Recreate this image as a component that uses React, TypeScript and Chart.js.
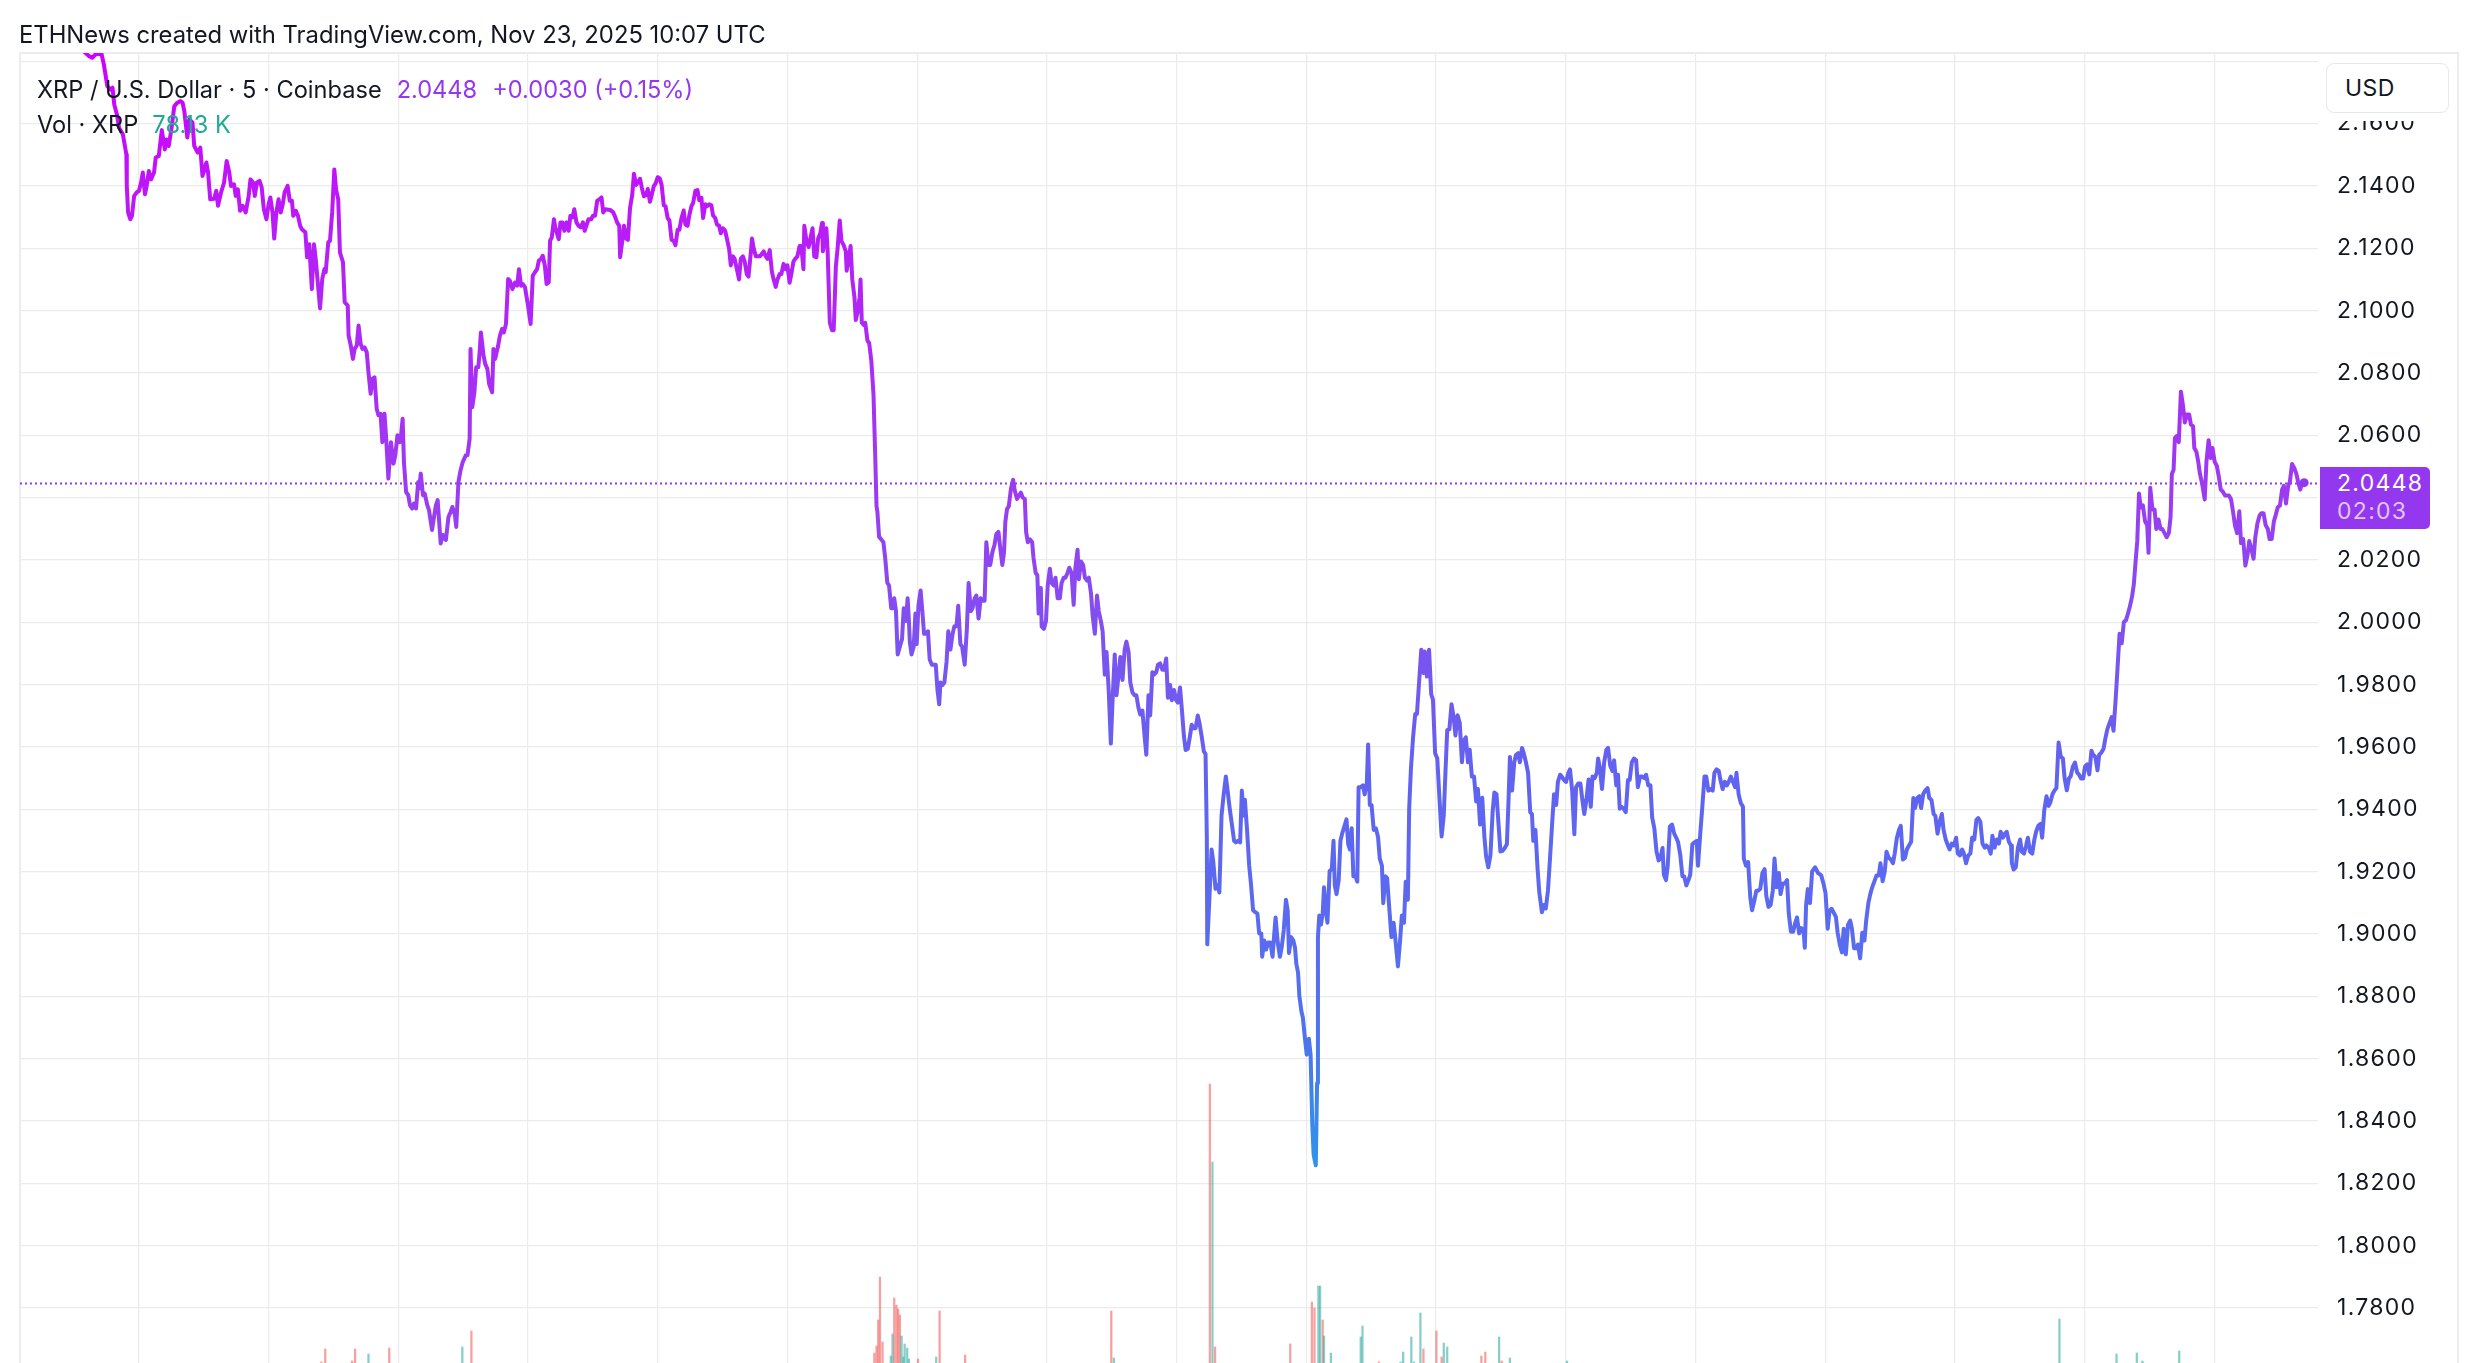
import React, { useEffect, useRef } from "react";
import { Chart, registerables } from "chart.js";

Chart.register(...registerables);

// ---------- DATA (hours since Nov 21 08:00 UTC, 5-min XRP/USD closes) ----------
const timeHours = [
  -2.75, -2.1, -1.5,
  -1.15, -1.08, -1.01, -0.87, -0.81, -0.73, -0.66, -0.61, -0.57, -0.50,
  -0.46, -0.37, -0.29, -0.28, -0.25, -0.20, -0.16, -0.11, -0.05, 0.00,
  0.05, 0.09, 0.14, 0.18, 0.23, 0.28, 0.35, 0.39, 0.46, 0.53,
  0.60, 0.64, 0.69, 0.75, 0.82, 0.89, 0.96, 1.01, 1.05, 1.12,
  1.17, 1.24, 1.28, 1.36, 1.42, 1.47, 1.51, 1.56, 1.60, 1.65,
  1.74, 1.79, 1.83, 1.90, 1.97, 2.03, 2.09, 2.13, 2.20, 2.24,
  2.29, 2.34, 2.40, 2.47, 2.54, 2.58, 2.64, 2.68, 2.73, 2.79,
  2.84, 2.89, 2.95, 3.00, 3.04, 3.09, 3.13, 3.18, 3.23, 3.28,
  3.32, 3.37, 3.44, 3.49, 3.54, 3.57, 3.63, 3.68, 3.73, 3.77,
  3.85, 3.89, 3.94, 4.00, 4.05, 4.09, 4.19, 4.24, 4.29, 4.32,
  4.38, 4.42, 4.47, 4.52, 4.56, 4.61, 4.65, 4.72, 4.76, 4.83,
  4.85, 4.90, 4.95, 4.99, 5.04, 5.08, 5.13, 5.17, 5.22, 5.27,
  5.31, 5.36, 5.40, 5.45, 5.50, 5.54, 5.59, 5.63, 5.68, 5.72,
  5.77, 5.83, 5.89, 5.93, 5.98, 6.03, 6.06, 6.10, 6.13, 6.18,
  6.23, 6.27, 6.32, 6.36, 6.41, 6.46, 6.48, 6.52, 6.57, 6.61,
  6.67, 6.71, 6.78, 6.82, 6.87, 6.91, 6.98, 7.03, 7.10, 7.16,
  7.21, 7.25, 7.31, 7.34, 7.39, 7.44, 7.49, 7.56, 7.60, 7.65,
  7.67, 7.71, 7.76, 7.80, 7.85, 7.88, 7.91, 7.97, 8.01, 8.06,
  8.10, 8.17, 8.20, 8.24, 8.31, 8.35, 8.40, 8.44, 8.49, 8.54,
  8.58, 8.64, 8.70, 8.75, 8.79, 8.84, 8.88, 8.93, 9.00, 9.06,
  9.11, 9.16, 9.21, 9.25, 9.30, 9.34, 9.39, 9.43, 9.48, 9.51,
  9.55, 9.60, 9.63, 9.71, 9.75, 9.80, 9.84, 9.89, 9.94, 9.98,
  10.03, 10.07, 10.12, 10.17, 10.22, 10.27, 10.31, 10.36, 10.40, 10.46,
  10.50, 10.55, 10.60, 10.65, 10.70, 10.74, 10.79, 10.90, 10.97, 11.02,
  11.06, 11.11,
  11.13, 11.18, 11.22, 11.27, 11.31, 11.36, 11.41, 11.45, 11.50, 11.54,
  11.59, 11.63, 11.68, 11.73, 11.77, 11.82, 11.86, 11.91, 11.95, 12.00,
  12.05, 12.09, 12.14, 12.18, 12.23, 12.27, 12.32, 12.37, 12.41, 12.46,
  12.50, 12.55, 12.60, 12.64, 12.69, 12.73, 12.78, 12.82, 12.87, 12.92,
  12.96, 13.01, 13.05, 13.10, 13.14, 13.19, 13.24, 13.28, 13.33, 13.37,
  13.42, 13.46, 13.51, 13.56, 13.60, 13.65, 13.69, 13.74, 13.78, 13.83,
  13.88, 13.92, 13.97, 14.01, 14.06, 14.10, 14.15, 14.18, 14.22, 14.27,
  14.31, 14.36, 14.41, 14.45, 14.50, 14.54, 14.59, 14.64, 14.68, 14.73,
  14.77, 14.82, 14.86, 14.91, 14.96, 15.00, 15.05, 15.09, 15.14, 15.18,
  15.23, 15.28, 15.32, 15.37, 15.39, 15.44, 15.49, 15.53, 15.58, 15.62,
  15.67, 15.71, 15.76, 15.80, 15.82, 15.86, 15.90, 15.93, 15.98, 16.03,
  16.07, 16.12, 16.16, 16.21, 16.25, 16.30, 16.35, 16.37, 16.42, 16.46,
  16.50, 16.55, 16.58, 16.62, 16.67, 16.69, 16.72, 16.77, 16.80, 16.85,
  16.89, 16.94, 16.99, 17.03, 17.06, 17.08, 17.12, 17.17, 17.22, 17.26,
  17.31, 17.35, 17.40, 17.44, 17.47, 17.51, 17.55, 17.60, 17.65, 17.69,
  17.74, 17.78, 17.81, 17.83, 17.87, 17.92, 17.96, 17.99, 18.03, 18.08,
  18.12, 18.16, 18.20, 18.25, 18.29, 18.34, 18.39, 18.43, 18.47, 18.51,
  18.54, 18.59, 18.63, 18.68, 18.72, 18.77, 18.82, 18.86, 18.91, 18.95,
  19.00, 19.04, 19.10, 19.15, 19.19, 19.24, 19.28, 19.33, 19.37, 19.42,
  19.47, 19.51, 19.56, 19.60, 19.65, 19.69, 19.74, 19.79, 19.83, 19.88,
  19.92, 19.97, 20.01, 20.04, 20.08, 20.12, 20.17, 20.22, 20.26, 20.31,
  20.35, 20.40, 20.44, 20.49, 20.52, 20.56, 20.61, 20.66, 20.69, 20.74,
  20.78, 20.81, 20.86, 20.88, 20.93, 20.98, 21.02, 21.07, 21.11, 21.16,
  21.20, 21.25, 21.30, 21.34, 21.39, 21.43, 21.48, 21.52, 21.57, 21.62,
  21.66, 21.71, 21.74, 21.79, 21.84, 21.88, 21.93, 21.97, 22.02, 22.06,
  22.11, 22.16, 22.20, 22.25, 22.29, 22.34, 22.38, 22.43, 22.48, 22.52,
  22.57, 22.61, 22.66, 22.70, 22.75, 22.80, 22.84, 22.89, 22.93, 22.98,
  23.03, 23.07, 23.12, 23.16, 23.21, 23.25, 23.30, 23.35, 23.39, 23.44,
  23.48, 23.53, 23.57, 23.62, 23.67, 23.71, 23.76, 23.80, 23.85, 23.89,
  23.94, 23.99, 24.03, 24.08, 24.12, 24.17, 24.21, 24.26, 24.31, 24.35,
  24.40, 24.44, 24.49, 24.53, 24.58, 24.63, 24.67, 24.70,
  24.71, 24.76, 24.81, 24.85, 24.90, 24.95, 24.99, 25.04, 25.09, 25.14,
  25.18, 25.23, 25.28, 25.33, 25.37, 25.42, 25.47, 25.51, 25.55, 25.58,
  25.63, 25.68, 25.72, 25.77, 25.82, 25.87, 25.91, 25.96, 25.98, 26.03,
  26.07, 26.12, 26.17, 26.22, 26.26, 26.29, 26.34, 26.39, 26.43, 26.48,
  26.53, 26.57, 26.60, 26.65, 26.70, 26.74, 26.77, 26.81, 26.84, 26.89,
  26.92, 26.97, 27.01, 27.06, 27.10, 27.14, 27.17, 27.22, 27.25, 27.27,
  27.30, 27.34, 27.38, 27.41, 27.45, 27.49, 27.54, 27.59, 27.63, 27.66,
  27.70, 27.75, 27.79, 27.83, 27.88, 27.93, 27.97, 28.01, 28.05, 28.09,
  28.14, 28.18, 28.21, 28.26, 28.31, 28.35, 28.40, 28.43, 28.47, 28.51,
  28.56, 28.61, 28.66, 28.70, 28.75, 28.78, 28.83, 28.87, 28.92, 28.97,
  29.02, 29.06, 29.12, 29.17, 29.21, 29.26, 29.30, 29.35, 29.38, 29.42,
  29.47, 29.52, 29.56, 29.61, 29.66, 29.71, 29.74, 29.79, 29.84, 29.89,
  29.93, 29.98, 30.03, 30.08, 30.13, 30.18, 30.22, 30.26, 30.31, 30.36,
  30.41, 30.45, 30.50, 30.55, 30.60, 30.64, 30.69, 30.74, 30.78, 30.83,
  30.88, 30.93, 30.97, 31.02, 31.07, 31.12, 31.16, 31.21, 31.26, 31.31,
  31.35, 31.40, 31.45, 31.49, 31.54, 31.59, 31.64, 31.68, 31.71, 31.76,
  31.81, 31.85, 31.90, 31.94, 31.99, 32.03, 32.08, 32.13, 32.18, 32.22,
  32.25, 32.30, 32.35, 32.39, 32.45, 32.50, 32.54, 32.59, 32.64, 32.69,
  32.73, 32.78, 32.82, 32.87, 32.91, 32.96, 33.01, 33.06, 33.10, 33.15,
  33.20, 33.24, 33.29, 33.34, 33.39, 33.43, 33.48, 33.53, 33.58, 33.62,
  33.67, 33.72, 33.75, 33.79, 33.84, 33.89, 33.94, 33.98, 34.03, 34.08,
  34.12, 34.17, 34.21, 34.25, 34.29, 34.34, 34.39, 34.44, 34.48, 34.53,
  34.58, 34.63, 34.67, 34.72, 34.77, 34.82, 34.86, 34.91, 34.96, 35.00,
  35.05, 35.10, 35.15, 35.19, 35.24, 35.27, 35.32, 35.36, 35.41, 35.46,
  35.51, 35.55, 35.60, 35.65, 35.70, 35.74, 35.79, 35.84, 35.88, 35.93,
  35.98, 36.03, 36.06, 36.11, 36.16, 36.21, 36.25, 36.30, 36.35, 36.40,
  36.44, 36.49, 36.54, 36.58, 36.63, 36.68, 36.73, 36.77, 36.82, 36.87,
  36.92, 36.95, 37.00, 37.05, 37.10, 37.12, 37.17, 37.22, 37.27, 37.31,
  37.36, 37.41, 37.45, 37.50, 37.55, 37.60, 37.64, 37.69, 37.74, 37.79,
  37.83, 37.88, 37.93, 37.97, 38.02, 38.07, 38.12, 38.16, 38.21, 38.26,
  38.31, 38.35, 38.40, 38.45, 38.50, 38.53,
  38.56, 38.60, 38.65, 38.70, 38.77, 38.84, 38.91, 38.96, 39.01, 39.06,
  39.10, 39.15, 39.20, 39.25, 39.29, 39.34, 39.39, 39.43, 39.48, 39.53,
  39.58, 39.62, 39.67, 39.72, 39.76, 39.81, 39.86, 39.91, 39.95, 40.00,
  40.05, 40.09, 40.14, 40.19, 40.24, 40.28, 40.33, 40.38, 40.42, 40.47,
  40.52, 40.57, 40.61, 40.66, 40.71, 40.75, 40.80, 40.85, 40.89, 40.94,
  40.99, 41.04, 41.08, 41.13, 41.18, 41.22, 41.27, 41.32, 41.37, 41.41,
  41.46, 41.51, 41.55, 41.60, 41.65, 41.70, 41.74, 41.79, 41.84, 41.88,
  41.93, 41.98, 42.03, 42.07, 42.12, 42.17, 42.21, 42.26, 42.31, 42.36,
  42.40, 42.45, 42.50, 42.54, 42.59, 42.64, 42.69, 42.73, 42.78, 42.83,
  42.87, 42.92, 42.97, 43.02, 43.06, 43.11, 43.16, 43.20, 43.25, 43.30,
  43.32, 43.36, 43.41, 43.46, 43.51, 43.55, 43.60, 43.65, 43.69, 43.74,
  43.79, 43.84, 43.88, 43.93, 43.98, 44.02, 44.07, 44.12, 44.17, 44.21,
  44.26, 44.31, 44.35, 44.40, 44.45, 44.50, 44.54, 44.59, 44.64, 44.68,
  44.73, 44.78, 44.83, 44.87, 44.92, 44.97, 45.01, 45.06, 45.11, 45.16,
  45.20, 45.25, 45.30, 45.34, 45.39, 45.44, 45.48, 45.53, 45.58, 45.63,
  45.67, 45.72, 45.77, 45.81, 45.86, 45.91, 45.96, 46.00, 46.05, 46.10,
  46.14, 46.19, 46.22, 46.26, 46.30, 46.35, 46.40, 46.45, 46.48, 46.52,
  46.57, 46.62, 46.66, 46.71, 46.76, 46.80, 46.85, 46.90, 46.95, 46.99,
  47.02, 47.06, 47.09, 47.13, 47.18, 47.23, 47.28, 47.32, 47.37, 47.42,
  47.46, 47.51, 47.54, 47.59, 47.63, 47.67, 47.72, 47.78, 47.82, 47.87,
  47.92, 47.96, 48.01, 48.06, 48.11, 48.15, 48.20, 48.25, 48.29, 48.34,
  48.39, 48.44, 48.48, 48.53, 48.58, 48.62, 48.67, 48.72, 48.77, 48.81,
  48.86, 48.91, 48.95, 49.00, 49.05, 49.09, 49.14, 49.19, 49.24, 49.28,
  49.33, 49.38, 49.42, 49.47, 49.52, 49.57, 49.61, 49.66, 49.71, 49.75,
  49.80, 49.85, 49.90, 49.94, 49.99, 50.04, 50.08,
];

const priceUSD = [
  2.1905, 2.1885, 2.1860,
  2.1816, 2.1811, 2.1821, 2.1827, 2.1789, 2.1720, 2.1709, 2.1715, 2.1661, 2.1624,
  2.1587, 2.1565, 2.1501, 2.1400, 2.1315, 2.1293, 2.1304, 2.1368, 2.1379, 2.1384,
  2.1411, 2.1443, 2.1373, 2.1400, 2.1448, 2.1421, 2.1443, 2.1491, 2.1496, 2.1579,
  2.1517, 2.1549, 2.1528, 2.1581, 2.1656, 2.1667, 2.1672, 2.1667, 2.1640, 2.1555,
  2.1613, 2.1603, 2.1528, 2.1507, 2.1523, 2.1432, 2.1448, 2.1475, 2.1443, 2.1357,
  2.1359, 2.1384, 2.1336, 2.1379, 2.1411, 2.1480, 2.1443, 2.1400, 2.1405, 2.1368,
  2.1389, 2.1320, 2.1336, 2.1315, 2.1368, 2.1421, 2.1411, 2.1368, 2.1411, 2.1416,
  2.1395, 2.1325, 2.1293, 2.1341, 2.1363, 2.1315, 2.1231, 2.1315, 2.1357, 2.1315,
  2.1336, 2.1379, 2.1400, 2.1352, 2.1352, 2.1304, 2.1320, 2.1304, 2.1272, 2.1261,
  2.1251, 2.1171, 2.1213, 2.1069, 2.1213, 2.1165, 2.1007, 2.1101, 2.1133, 2.1123,
  2.1219, 2.1224, 2.1315, 2.1453, 2.1389, 2.1357, 2.1187, 2.1155, 2.1027, 2.1016,
  2.0920, 2.0888, 2.0845, 2.0877, 2.0888, 2.0952, 2.0893, 2.0877, 2.0882, 2.0866,
  2.0802, 2.0733, 2.0781, 2.0786, 2.0685, 2.0664, 2.0669, 2.0578, 2.0669, 2.0589,
  2.0461, 2.0578, 2.0509, 2.0536, 2.0600, 2.0578, 2.0594, 2.0653, 2.0514, 2.0418,
  2.0408, 2.0376, 2.0365, 2.0381, 2.0365, 2.0450, 2.0429, 2.0477, 2.0408, 2.0413,
  2.0376, 2.0360, 2.0296, 2.0333, 2.0376, 2.0392, 2.0253, 2.0280, 2.0264, 2.0338,
  2.0354, 2.0370, 2.0344, 2.0306, 2.0450, 2.0488, 2.0514, 2.0536, 2.0536, 2.0589,
  2.0877, 2.0690, 2.0738, 2.0818, 2.0818, 2.0866, 2.0930, 2.0856, 2.0829, 2.0813,
  2.0765, 2.0738, 2.0877, 2.0845, 2.0888, 2.0920, 2.0941, 2.0930, 2.0957, 2.1101,
  2.1096, 2.1069, 2.1090, 2.1080, 2.1133, 2.1080, 2.1085, 2.1075, 2.1016, 2.0957,
  2.1112, 2.1123, 2.1133, 2.1160, 2.1165, 2.1176, 2.1144, 2.1085, 2.1091, 2.1224,
  2.1235, 2.1293, 2.1267, 2.1229, 2.1283, 2.1283, 2.1256, 2.1283, 2.1256, 2.1304,
  2.1299, 2.1325, 2.1283, 2.1272, 2.1267, 2.1283, 2.1256, 2.1277, 2.1293, 2.1293,
  2.1304, 2.1304, 2.1352, 2.1357, 2.1363, 2.1315, 2.1325, 2.1323, 2.1315, 2.1299,
  2.1283, 2.1272,
  2.1171, 2.1223, 2.1272, 2.1231, 2.1227, 2.1330, 2.1371, 2.1439, 2.1403, 2.1411,
  2.1423, 2.1395, 2.1367, 2.1371, 2.1390, 2.1349, 2.1371, 2.1400, 2.1407, 2.1428,
  2.1423, 2.1403, 2.1338, 2.1335, 2.1297, 2.1289, 2.1227, 2.1223, 2.1210, 2.1259,
  2.1259, 2.1297, 2.1321, 2.1276, 2.1272, 2.1305, 2.1335, 2.1346, 2.1384, 2.1387,
  2.1354, 2.1362, 2.1297, 2.1341, 2.1335, 2.1341, 2.1338, 2.1305, 2.1297, 2.1276,
  2.1272, 2.1248, 2.1264, 2.1256, 2.1231, 2.1199, 2.1145, 2.1174, 2.1166, 2.1133,
  2.1100, 2.1166, 2.1174, 2.1158, 2.1117, 2.1109, 2.1182, 2.1231, 2.1199, 2.1174,
  2.1174, 2.1174, 2.1182, 2.1190, 2.1174, 2.1166, 2.1194, 2.1125, 2.1100, 2.1076,
  2.1100, 2.1117, 2.1117, 2.1150, 2.1133, 2.1145, 2.1089, 2.1117, 2.1158, 2.1166,
  2.1174, 2.1207, 2.1207, 2.1133, 2.1272, 2.1223, 2.1204, 2.1231, 2.1264, 2.1174,
  2.1171, 2.1231, 2.1248, 2.1281, 2.1190, 2.1231, 2.1264, 2.1190, 2.0961, 2.0937,
  2.0937, 2.1142, 2.1199, 2.1289, 2.1223, 2.1210, 2.1190, 2.1128, 2.1166, 2.1207,
  2.1100, 2.1043, 2.0970, 2.0994, 2.1043, 2.1100, 2.0961, 2.0953, 2.0961, 2.0904,
  2.0896, 2.0839, 2.0732, 2.0536, 2.0372, 2.0356, 2.0274, 2.0266, 2.0257, 2.0208,
  2.0127, 2.0118, 2.0045, 2.0045, 2.0077, 2.0036, 1.9897, 1.9922, 1.9946, 2.0045,
  2.0004, 2.0077, 2.0004, 1.9938, 1.9897, 1.9922, 2.0028, 1.9930, 2.0053, 2.0102,
  2.0036, 1.9963, 1.9963, 1.9971, 1.9881, 1.9864, 1.9864, 1.9864, 1.9783, 1.9737,
  1.9807, 1.9799, 1.9807, 1.9873, 1.9971, 1.9913, 1.9963, 1.9987, 1.9987, 2.0053,
  1.9930, 1.9922, 1.9864, 1.9979, 2.0126, 2.0036, 2.0045, 2.0077, 2.0086, 2.0012,
  2.0077, 2.0069, 2.0069, 2.0257, 2.0184, 2.0184, 2.0225, 2.0249, 2.0282, 2.0290,
  2.0241, 2.0184, 2.0225, 2.0323, 2.0364, 2.0372, 2.0429, 2.0457, 2.0421, 2.0396,
  2.0405, 2.0416, 2.0400, 2.0396, 2.0290, 2.0257, 2.0266, 2.0257, 2.0208, 2.0159,
  2.0151, 2.0028, 2.0110, 1.9987, 1.9979, 2.0004, 2.0118, 2.0172, 2.0126, 2.0118,
  2.0143, 2.0077, 2.0077, 2.0126, 2.0143, 2.0143, 2.0159, 2.0175, 2.0159, 2.0056,
  2.0175, 2.0233, 2.0138, 2.0195, 2.0184, 2.0143, 2.0134, 2.0143, 2.0094, 2.0020,
  1.9963, 2.0086, 2.0036, 2.0004, 1.9971, 1.9832, 1.9905, 1.9783, 1.9611, 1.9750,
  1.9897, 1.9766, 1.9832, 1.9889, 1.9815, 1.9913, 1.9938, 1.9905, 1.9807, 1.9775,
  1.9766, 1.9766, 1.9725, 1.9704, 1.9717, 1.9652, 1.9575, 1.9766, 1.9701, 1.9840,
  1.9832, 1.9840, 1.9864, 1.9868, 1.9848, 1.9848, 1.9884, 1.9758, 1.9799, 1.9750,
  1.9783, 1.9750, 1.9742, 1.9791, 1.9725, 1.9635, 1.9590, 1.9594, 1.9635, 1.9671,
  1.9660, 1.9660, 1.9701, 1.9676, 1.9635, 1.9586, 1.9578, 1.9308,
  1.8967, 1.9116, 1.9271, 1.9231, 1.9145, 1.9156, 1.9133, 1.9380, 1.9448, 1.9505,
  1.9460, 1.9402, 1.9351, 1.9299, 1.9294, 1.9299, 1.9294, 1.9460, 1.9380, 1.9431,
  1.9334, 1.9219, 1.9162, 1.9076, 1.9070, 1.9065, 1.9002, 1.9002, 1.8927, 1.8979,
  1.8950, 1.8973, 1.8973, 1.8927, 1.9002, 1.9053, 1.8973, 1.8927, 1.8956, 1.9013,
  1.9110, 1.9076, 1.8939, 1.8990, 1.8979, 1.8956, 1.8904, 1.8876, 1.8801, 1.8750,
  1.8733, 1.8664, 1.8613, 1.8664, 1.8613, 1.8384, 1.8292, 1.8258, 1.8521, 1.8990,
  1.9059, 1.9030, 1.9065, 1.9150, 1.9082, 1.9036, 1.9202, 1.9208, 1.9299, 1.9156,
  1.9128, 1.9173, 1.9299, 1.9322, 1.9345, 1.9368, 1.9288, 1.9271, 1.9339, 1.9185,
  1.9185, 1.9168, 1.9471, 1.9471, 1.9477, 1.9448, 1.9483, 1.9608, 1.9414, 1.9414,
  1.9334, 1.9339, 1.9311, 1.9242, 1.9219, 1.9099, 1.9185, 1.9179, 1.9082, 1.8990,
  1.9036, 1.8985, 1.8896, 1.8979, 1.9059, 1.9036, 1.9168, 1.9110, 1.9402, 1.9528,
  1.9631, 1.9706, 1.9706, 1.9809, 1.9912, 1.9837, 1.9906, 1.9826, 1.9912, 1.9769,
  1.9752, 1.9580, 1.9563, 1.9437, 1.9313, 1.9380, 1.9523, 1.9654, 1.9657, 1.9737,
  1.9694, 1.9637, 1.9702, 1.9677, 1.9551, 1.9620, 1.9631, 1.9551, 1.9591, 1.9505,
  1.9505, 1.9425, 1.9465, 1.9351, 1.9437, 1.9311, 1.9248, 1.9214, 1.9254, 1.9391,
  1.9454, 1.9448, 1.9345, 1.9265, 1.9267, 1.9276, 1.9288, 1.9437, 1.9568, 1.9460,
  1.9551, 1.9574, 1.9580, 1.9551, 1.9597, 1.9580, 1.9551, 1.9517, 1.9391, 1.9385,
  1.9299, 1.9334, 1.9208, 1.9133, 1.9070, 1.9093, 1.9082, 1.9139, 1.9248, 1.9362,
  1.9448, 1.9414, 1.9488, 1.9511, 1.9505, 1.9494, 1.9488, 1.9517, 1.9528, 1.9460,
  1.9320, 1.9471, 1.9483, 1.9483, 1.9425, 1.9385, 1.9431, 1.9496, 1.9408, 1.9505,
  1.9500, 1.9517, 1.9563, 1.9534, 1.9465, 1.9551, 1.9591, 1.9597, 1.9540, 1.9523,
  1.9557, 1.9477, 1.9511, 1.9402, 1.9408, 1.9402, 1.9391, 1.9494, 1.9494, 1.9551,
  1.9563, 1.9557, 1.9471, 1.9505, 1.9505, 1.9500, 1.9511, 1.9477, 1.9477, 1.9374,
  1.9339, 1.9265, 1.9236, 1.9242, 1.9276, 1.9190, 1.9173, 1.9219, 1.9345, 1.9351,
  1.9322, 1.9311, 1.9294, 1.9254, 1.9185, 1.9185, 1.9156, 1.9173, 1.9190, 1.9288,
  1.9294, 1.9299, 1.9219, 1.9317, 1.9408, 1.9505, 1.9505, 1.9460, 1.9465, 1.9460,
  1.9517, 1.9528, 1.9523, 1.9494, 1.9465, 1.9488, 1.9477, 1.9488, 1.9505, 1.9488,
  1.9471, 1.9517, 1.9448, 1.9420, 1.9408, 1.9242, 1.9219, 1.9231, 1.9116, 1.9076,
  1.9105, 1.9139, 1.9139, 1.9145, 1.9196, 1.9208, 1.9122, 1.9087, 1.9093, 1.9139,
  1.9242, 1.9150, 1.9196, 1.9128, 1.9162, 1.9162, 1.9173, 1.9065, 1.9007, 1.9007,
  1.9036, 1.9053, 1.9002, 1.9019, 1.9013, 1.8956,
  1.9093, 1.9144, 1.9099, 1.9201, 1.9214, 1.9195, 1.9188, 1.9163, 1.9131, 1.9017,
  1.9074, 1.9081, 1.9068, 1.9055, 1.9004, 1.8966, 1.8941, 1.9017, 1.8935, 1.9030,
  1.9043, 1.9017, 1.8954, 1.8954, 1.8966, 1.8922, 1.9004, 1.8979, 1.9043, 1.9099,
  1.9131, 1.9150, 1.9169, 1.9188, 1.9188, 1.9227, 1.9169, 1.9201, 1.9264, 1.9245,
  1.9239, 1.9227, 1.9258, 1.9309, 1.9334, 1.9347, 1.9239, 1.9245, 1.9271, 1.9284,
  1.9296, 1.9436, 1.9404, 1.9436, 1.9442, 1.9404, 1.9449, 1.9461, 1.9468, 1.9436,
  1.9430, 1.9385, 1.9379, 1.9322, 1.9360, 1.9385, 1.9334, 1.9303, 1.9284, 1.9271,
  1.9290, 1.9284, 1.9309, 1.9258, 1.9252, 1.9271, 1.9258, 1.9227, 1.9252, 1.9258,
  1.9309, 1.9303, 1.9366, 1.9372, 1.9360, 1.9290, 1.9277, 1.9284, 1.9277, 1.9258,
  1.9315, 1.9277, 1.9303, 1.9290, 1.9328, 1.9309, 1.9322, 1.9328, 1.9296, 1.9284,
  1.9227, 1.9207, 1.9214, 1.9277, 1.9303, 1.9264, 1.9258, 1.9284, 1.9309, 1.9264,
  1.9258, 1.9303, 1.9328, 1.9347, 1.9353, 1.9309, 1.9398, 1.9442, 1.9411, 1.9423,
  1.9449, 1.9461, 1.9468, 1.9614, 1.9569, 1.9563, 1.9499, 1.9461, 1.9499, 1.9506,
  1.9537, 1.9550, 1.9518, 1.9512, 1.9499, 1.9499, 1.9537, 1.9544, 1.9512, 1.9588,
  1.9575, 1.9569, 1.9525, 1.9575, 1.9582, 1.9594, 1.9626, 1.9658, 1.9677, 1.9696,
  1.9652, 1.9753, 1.9868, 1.9963, 1.9933, 2.0001, 2.0007, 2.0026, 2.0051, 2.0083,
  2.0121, 2.0210, 2.0261, 2.0413, 2.0368, 2.0375, 2.0324, 2.0311, 2.0223, 2.0432,
  2.0362, 2.0362, 2.0299, 2.0330, 2.0299, 2.0299, 2.0286, 2.0273, 2.0286, 2.0337,
  2.0476, 2.0489, 2.0591, 2.0597, 2.0578, 2.0740, 2.0692, 2.0641, 2.0667, 2.0667,
  2.0635, 2.0629, 2.0559, 2.0546, 2.0515, 2.0476, 2.0445, 2.0394, 2.0515, 2.0584,
  2.0527, 2.0559, 2.0515, 2.0502, 2.0464, 2.0426, 2.0419, 2.0407, 2.0407, 2.0407,
  2.0394, 2.0350, 2.0311, 2.0286, 2.0356, 2.0254, 2.0267, 2.0182, 2.0216, 2.0261,
  2.0235, 2.0204, 2.0273, 2.0318, 2.0343, 2.0350, 2.0350, 2.0311, 2.0299, 2.0267,
  2.0267, 2.0324, 2.0343, 2.0369, 2.0375, 2.0426, 2.0438, 2.0381, 2.0438, 2.0451,
  2.0508, 2.0495, 2.0476, 2.0451, 2.0426, 2.0451, 2.0448,
];

const volHours = [
  4.22, 4.31, 4.93, 5.00, 5.31, 5.79, 7.48, 7.69, 17.01, 17.06,
  17.10, 17.14, 17.20, 17.39, 17.43, 17.47, 17.52, 17.56, 17.60, 17.64,
  17.68, 17.71, 17.77, 17.81, 18.02, 18.44, 18.52, 19.11, 22.49, 22.55,
  24.77, 24.83, 24.89, 26.63, 27.13, 27.19, 27.28, 27.32, 27.38, 27.41,
  27.57, 28.26, 28.30, 28.68, 29.18, 29.24, 29.43, 29.49, 29.64, 29.71,
  30.01, 30.13, 30.18, 30.26, 31.05, 31.14, 31.46, 31.52, 31.71, 33.03,
  44.42, 45.74, 46.21, 46.34, 47.19,
];
const volMillions = [
  0.01, 0.14, 0.02, 0.14, 0.09, 0.15, 0.16, 0.32, 0.10, 0.17,
  0.43, 0.86, 0.21, 0.07, 0.29, 0.65, 0.58, 0.54, 0.48, 0.27,
  0.06, 0.19, 0.15, 0.04, 0.04, 0.06, 0.52, 0.08, 0.52, 0.05,
  2.79, 2.01, 0.16, 0.19, 0.61, 0.55, 0.77, 0.77, 0.43, 0.27,
  0.10, 0.26, 0.37, 0.01, 0.01, 0.11, 0.26, 0.01, 0.50, 0.14,
  0.32, 0.06, 0.20, 0.16, 0.07, 0.11, 0.26, 0.02, 0.05, 0.02,
  0.44, 0.09, 0.10, 0.02, 0.12,
];
const volUp = [
  0, 0, 0, 0, 1, 0, 1, 0, 0, 0,
  0, 0, 0, 1, 1, 0, 0, 0, 0, 1,
  1, 1, 1, 1, 0, 1, 0, 0, 0, 1,
  0, 1, 0, 0, 0, 0, 1, 1, 0, 1,
  1, 1, 1, 0, 1, 1, 1, 1, 1, 0,
  0, 0, 1, 1, 0, 0, 1, 0, 1, 1,
  1, 1, 1, 1, 1,
];

const priceTicks = [
  1.78, 1.8, 1.82, 1.84, 1.86, 1.88, 1.9, 1.92, 1.94, 1.96, 1.98,
  2.0, 2.02, 2.04, 2.06, 2.08, 2.1, 2.12, 2.14, 2.16, 2.18,
];
const hiddenTickAbove = 2.17;
const hourGrid = [0, 3, 6, 9, 12, 15, 18, 21, 24, 27, 30, 33, 36, 39, 42, 45, 48];

const lastPrice = 2.0448;
const headerText = "ETHNews created with TradingView.com, Nov 23, 2025 10:07 UTC";
const symbolTitle = "XRP / U.S. Dollar · 5 · Coinbase";
const priceText = "2.0448";
const changeText = "+0.0030 (+0.15%)";
const volTitle = "Vol · XRP";
const volText = "78.13 K";
const countdown = "02:03";
const currency = "USD";

// ---------- LAYOUT / STYLE ----------
const W = 2478;
const H = 1363;
const PAD_L = 20;
const PAD_T = 53;
const PAD_R = 20;
const AXIS_W = 140;
const Y_MIN = 1.76237;
const Y_MAX = 2.18264;
const X_MIN = -2.75;
const X_MAX = 50.4;
const FONT = "Inter, 'Noto Sans', sans-serif";
const PURPLE = "#9438f0";
const GRID = "#ebebeb";
const TEXT = "#131722";

const gradTop = 2.19;
const gradBottom = 1.825;
const gradStops: [number, string][] = [
  [2.18, "#cf00ff"],
  [2.12, "#b61ff6"],
  [2.04, "#9b3cf1"],
  [1.98, "#7458f0"],
  [1.95, "#6063f0"],
  [1.9, "#5a6bef"],
  [1.87, "#5072ee"],
  [1.825, "#2d95ea"],
];

export default function App() {
  const ref = useRef<HTMLCanvasElement>(null);

  useEffect(() => {
    const canvas = ref.current;
    if (!canvas) return;

    const overlay = {
      id: "tvOverlay",
      beforeDraw(chart: any) {
        (chart.ctx as any).letterSpacing = "1.3px";
      },
      beforeDatasetsDraw(chart: any) {
        const { ctx, chartArea: a, scales } = chart;
        ctx.save();
        ctx.strokeStyle = "#ececec";
        ctx.lineWidth = 2;
        ctx.beginPath();
        ctx.moveTo(a.left, H + 5);
        ctx.lineTo(a.left, a.top);
        ctx.lineTo(a.right + AXIS_W, a.top);
        ctx.lineTo(a.right + AXIS_W, H + 5);
        ctx.stroke();
        const y = scales.y.getPixelForValue(lastPrice);
        ctx.strokeStyle = PURPLE;
        ctx.lineWidth = 2;
        ctx.setLineDash([2, 3]);
        ctx.beginPath();
        ctx.moveTo(a.left, Math.round(y) + 0.5);
        ctx.lineTo(a.right, Math.round(y) + 0.5);
        ctx.stroke();
        ctx.restore();
      },
    };

    const linePoints = timeHours.map((h, i) => ({ x: h, y: priceUSD[i] }));
    const volPoints = volHours.map((h, i) => ({ x: h, y: volMillions[i] }));
    const volColors = volUp.map((u) =>
      u ? "rgba(38,166,154,0.55)" : "rgba(239,83,80,0.55)"
    );

    const chart = new Chart(canvas, {
      type: "line",
      data: {
        datasets: [
          {
            type: "line",
            data: linePoints,
            xAxisID: "x",
            yAxisID: "y",
            order: 1,
            borderWidth: 4,
            tension: 0,
            borderJoinStyle: "round",
            borderCapStyle: "round",
            pointRadius: (c: any) => (c.dataIndex === priceUSD.length - 1 ? 4.5 : 0),
            pointBackgroundColor: PURPLE,
            pointBorderWidth: 0,
            pointHoverRadius: 0,
            borderColor: (c: any) => {
              const chart = c.chart;
              const { ctx, chartArea, scales } = chart;
              if (!chartArea || !scales.y) return PURPLE;
              const y0 = scales.y.getPixelForValue(gradTop);
              const y1 = scales.y.getPixelForValue(gradBottom);
              const g = ctx.createLinearGradient(0, y0, 0, y1);
              gradStops.forEach(([v, col]) => {
                const t = (gradTop - v) / (gradTop - gradBottom);
                g.addColorStop(Math.max(0, Math.min(1, t)), col);
              });
              return g;
            },
          } as any,
          {
            type: "bar",
            data: volPoints,
            xAxisID: "x",
            yAxisID: "yVol",
            order: 2,
            backgroundColor: volColors,
            borderWidth: 0,
            barThickness: 1.6,
          } as any,
        ],
      },
      options: {
        responsive: false,
        maintainAspectRatio: false,
        animation: false,
        devicePixelRatio: 1,
        events: [],
        layout: {
          autoPadding: false,
          padding: { left: PAD_L, top: PAD_T, right: PAD_R, bottom: 0 },
        },
        plugins: { legend: { display: false }, tooltip: { enabled: false } },
        scales: {
          x: {
            type: "linear",
            min: X_MIN,
            max: X_MAX,
            offset: false,
            afterBuildTicks: (s: any) => {
              s.ticks = hourGrid.map((v) => ({ value: v }));
            },
            afterFit: (s: any) => {
              s.height = 0;
              s.paddingLeft = 0;
              s.paddingRight = 0;
            },
            ticks: { display: false },
            border: { display: false },
            grid: { color: GRID, lineWidth: 1.2, drawTicks: false, offset: false },
          },
          y: {
            type: "linear",
            position: "right",
            min: Y_MIN,
            max: Y_MAX,
            afterBuildTicks: (s: any) => {
              s.ticks = priceTicks.map((v) => ({ value: v }));
            },
            afterFit: (s: any) => {
              s.width = AXIS_W;
              s.paddingTop = 0;
              s.paddingBottom = 0;
            },
            ticks: {
              padding: 19,
              color: TEXT,
              font: { family: FONT, size: 23 },
              callback: (v: any) => (Number(v) > hiddenTickAbove ? "" : Number(v).toFixed(4)),
            },
            border: { display: false },
            grid: { color: GRID, lineWidth: 1.2, drawTicks: false },
          },
          yVol: {
            type: "linear",
            display: false,
            min: 0,
            max: 13.1,
          },
        },
      } as any,
      plugins: [overlay],
    });

    return () => chart.destroy();
  }, []);

  const abs = (s: React.CSSProperties): React.CSSProperties => ({
    position: "absolute",
    whiteSpace: "nowrap",
    fontFamily: FONT,
    ...s,
  });

  return (
    <div
      style={{
        position: "absolute",
        left: 0,
        top: 0,
        width: W,
        height: H,
        overflow: "hidden",
        background: "#ffffff",
      }}
    >
      <canvas
        ref={ref}
        width={W}
        height={H}
        style={{ position: "absolute", left: 0, top: 0, width: W, height: H }}
      />
      <div style={abs({ left: 19, top: 21, fontSize: 23.8, lineHeight: "28px", color: TEXT })}>
        {headerText}
      </div>
      <div style={abs({ left: 37, top: 76, fontSize: 23.6, lineHeight: "28px", color: TEXT })}>
        {symbolTitle}
        <span style={{ color: PURPLE, marginLeft: 15 }}>{priceText}</span>
        <span style={{ color: PURPLE, marginLeft: 15 }}>{changeText}</span>
      </div>
      <div style={abs({ left: 37, top: 111, fontSize: 23.6, lineHeight: "28px", color: TEXT })}>
        {volTitle}
        <span style={{ color: "#22ab94", marginLeft: 14 }}>{volText}</span>
      </div>
      <div style={abs({ left: 2319, top: 55, width: 138, height: 66, background: "#ffffff" })} />
      <div
        style={abs({
          left: 2326,
          top: 63,
          width: 123,
          height: 50,
          border: "1px solid #e6e8ee",
          borderRadius: 8,
          background: "#ffffff",
          boxSizing: "border-box",
          fontSize: 23,
          lineHeight: "48px",
          paddingLeft: 18,
          color: TEXT,
          letterSpacing: "0.5px",
        })}
      >
        {currency}
      </div>
      <div
        style={abs({
          left: 2320,
          top: 467,
          width: 110,
          height: 62,
          background: PURPLE,
          borderRadius: "0 5px 5px 0",
        })}
      >
        <div
          style={abs({
            left: 17,
            top: 2,
            fontSize: 23,
            lineHeight: "28px",
            color: "#ffffff",
            letterSpacing: "1.3px",
          })}
        >
          {priceText}
        </div>
        <div
          style={abs({
            left: 17,
            top: 30,
            fontSize: 23,
            lineHeight: "28px",
            color: "rgba(255,255,255,0.72)",
            letterSpacing: "1.3px",
          })}
        >
          {countdown}
        </div>
      </div>
    </div>
  );
}
